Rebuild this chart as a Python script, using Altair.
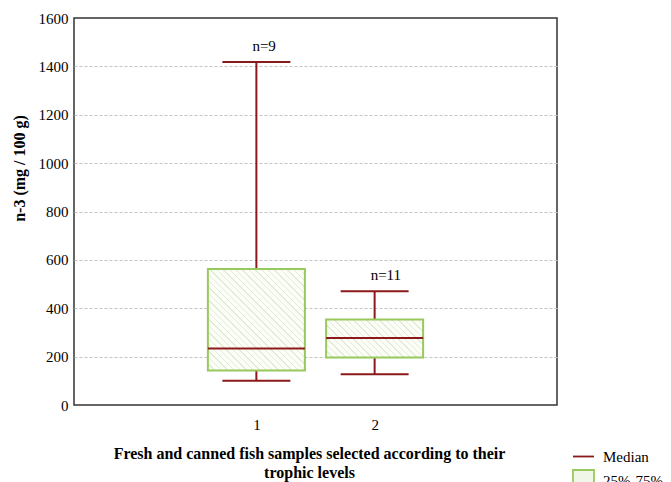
import math
import altair as alt
import pandas as pd

# ---- data ----
categories = [1, 2]
whisker_min = [100, 127]
q1 = [143, 196]
median = [234, 277]
q3 = [562, 354]
whisker_max = [1418, 470]
n_labels = ["n=9", "n=11"]
legend_items = ["Median", "25%-75%"]

y_ticks = [0, 200, 400, 600, 800, 1000, 1200, 1400, 1600]
x_ticks = [0, 1, 2, 3]

# ---- layout / style ----
W, H = 483, 387
Y_MAX = 1600
BOX_W = 97
CAP_W = 68
FONT = "Liberation Serif"
RED = "#8c1a1a"
GREEN = "#98c95c"
HATCH_LINE = "#e1eed3"
HATCH_BG = "#fcfdf9"

df = pd.DataFrame({
    "cat": categories, "wmin": whisker_min, "q1": q1, "med": median,
    "q3": q3, "wmax": whisker_max, "n": n_labels,
})

xs = alt.Scale(domain=[-0.5, 3.5], nice=False, zero=False)
ys = alt.Scale(domain=[0, Y_MAX], nice=False)

x_enc = alt.X("cat:Q", scale=xs, axis=alt.Axis(
    values=x_ticks, format="d",
    labelExpr="datum.value == 1 || datum.value == 2 ? datum.label : ''",
    ticks=False, domain=False, grid=False, labelPadding=12,
    labelFont=FONT, labelFontSize=15, labelColor="black",
    title=["Fresh and canned fish samples selected according to their", "trophic levels"],
    titleFont=FONT, titleFontSize=16, titleFontWeight="bold", titleColor="black",
    titlePadding=13, titleLineHeight=19, titleX=235))

y_axis = alt.Axis(
    values=y_ticks, format="d", ticks=False, domain=False, grid=True,
    gridColor="#c4c4c4", gridDash=[3, 2], gridWidth=1,
    gridOpacity=alt.expr("datum.value == 0 || datum.value == 1600 ? 0 : 1"),
    labelFont=FONT, labelFontSize=15, labelColor="black", labelPadding=6,
    title="n-3 (mg / 100 g)", titleFont=FONT, titleFontSize=16,
    titleFontWeight="bold", titleColor="black", titlePadding=11, titleY=150)

base = alt.Chart(df)

# whiskers (full range, covered by box)
whisk = base.mark_rule(color=RED, strokeWidth=2).encode(
    x=x_enc, y=alt.Y("wmin:Q", scale=ys, axis=y_axis), y2="wmax:Q")

caps_top = base.mark_tick(orient="horizontal", size=CAP_W, thickness=2, color=RED, opacity=1).encode(
    x=alt.X("cat:Q", scale=xs), y=alt.Y("wmax:Q", scale=ys))
caps_bot = base.mark_tick(orient="horizontal", size=CAP_W, thickness=2, color=RED, opacity=1).encode(
    x=alt.X("cat:Q", scale=xs), y=alt.Y("wmin:Q", scale=ys))


def hatch(w, h, period=4.5):
    """diagonal hatch gradient for a w x h pixel box"""
    L = (w + h) / math.sqrt(2)
    n = max(1, round(L / period))
    k2 = (w + h) / (w * w + h * h)
    stops = []
    for k in range(n):
        a = k / n
        b = (k + 0.22) / n
        stops += [alt.GradientStop(color=HATCH_LINE, offset=a),
                  alt.GradientStop(color=HATCH_LINE, offset=b),
                  alt.GradientStop(color=HATCH_BG, offset=b),
                  alt.GradientStop(color=HATCH_BG, offset=(k + 1) / n)]
    return alt.LinearGradient(gradient="linear", stops=stops,
                              x1=0, y1=1, x2=w * k2, y2=1 - h * k2)


boxes = []
for c, lo, hi in zip(categories, q1, q3):
    hpx = (hi - lo) * H / Y_MAX
    boxes.append(
        base.transform_filter(alt.datum.cat == c).mark_bar(
            size=BOX_W, stroke=GREEN, strokeWidth=2, fill=hatch(BOX_W, hpx)
        ).encode(x=alt.X("cat:Q", scale=xs), y=alt.Y("q1:Q", scale=ys), y2="q3:Q"))

med = base.mark_tick(orient="horizontal", size=BOX_W, thickness=2, color=RED, opacity=1).encode(
    x=alt.X("cat:Q", scale=xs), y=alt.Y("med:Q", scale=ys))

labels = base.mark_text(font=FONT, fontSize=15, align="left", baseline="middle",
                        dx=-4, dy=-16, color="black").encode(
    x=alt.X("cat:Q", scale=xs), y=alt.Y("wmax:Q", scale=ys), text="n:N")

# legend (built from scale domain only)
leg_df = pd.DataFrame({"kind": legend_items, "cat": [1, 1], "v": [0, 0]})
leg_props = dict(orient="none", legendX=498, legendY=427, title=None,
                 symbolSize=441, symbolStrokeWidth=1.8, labelFont=FONT,
                 labelFontSize=15, labelColor="black", labelOffset=8,
                 rowPadding=1, padding=0, symbolOpacity=1)
legend_layer = alt.Chart(leg_df).transform_filter("datum.kind == 'none'").mark_point(
    opacity=1, filled=False).encode(
    x=alt.X("cat:Q", scale=xs), y=alt.Y("v:Q", scale=ys),
    shape=alt.Shape("kind:N", scale=alt.Scale(domain=legend_items, range=["stroke", "square"]),
                    legend=alt.Legend(**leg_props)),
    stroke=alt.Stroke("kind:N", scale=alt.Scale(domain=legend_items, range=[RED, GREEN]),
                      legend=alt.Legend(**leg_props)),
    fill=alt.Fill("kind:N", scale=alt.Scale(domain=legend_items, range=[RED, "#f1f7e8"]),
                  legend=alt.Legend(**leg_props)),
)

chart = alt.layer(whisk, *boxes, med, caps_top, caps_bot, labels, legend_layer).properties(
    width=W, height=H,
    padding={"left": 74, "top": 18, "right": 671 - 74 - W, "bottom": 482 - 18 - H},
    autosize="none", background="white",
).configure_view(stroke="#333333", strokeWidth=1.5)

chart.save("out.html", embed_options={"renderer": "svg", "actions": False})
